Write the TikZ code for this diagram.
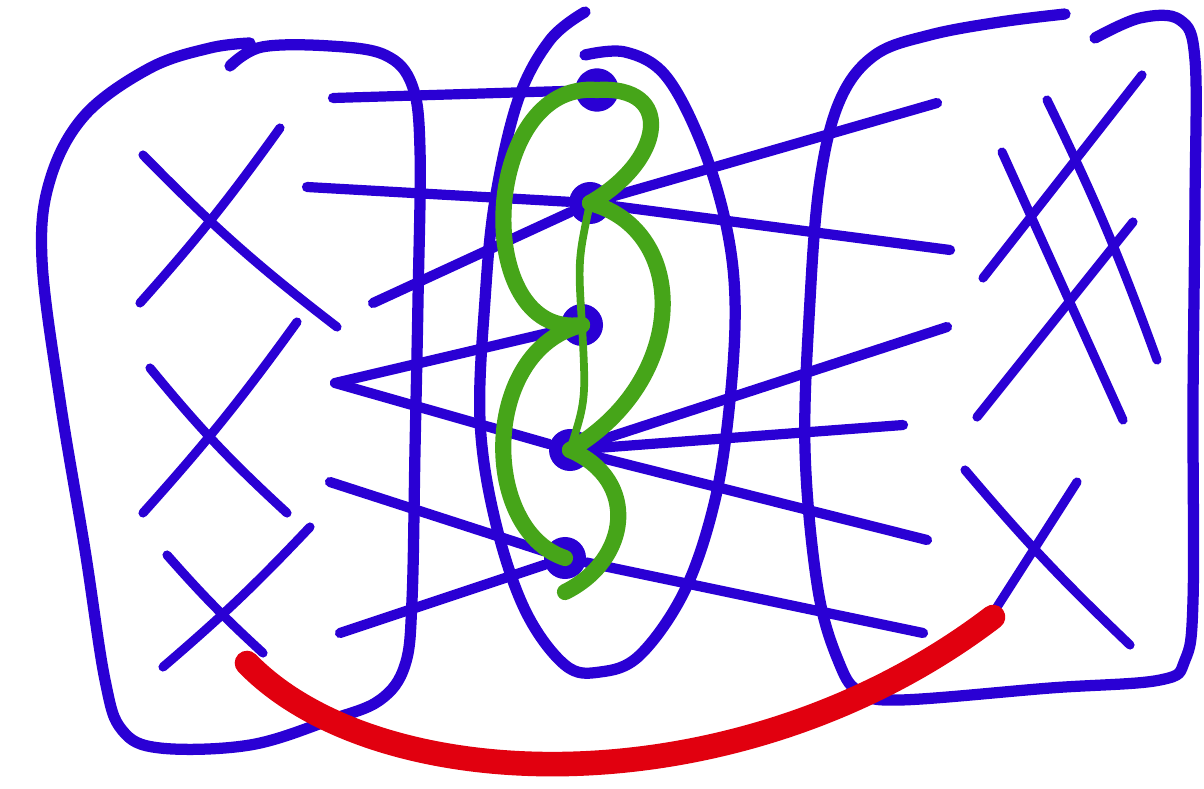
\documentclass[tikz,border=0pt]{standalone}
\usetikzlibrary{positioning}
\definecolor{pen}{RGB}{42,0,212}
\definecolor{leaf}{RGB}{70,165,25}
\definecolor{rim}{RGB}{225,0,15}

\begin{document}
\begin{tikzpicture}[
  x=0.01cm, y=-0.01cm,
  line cap=round, line join=round,
  outline/.style={pen, line width=3.2pt},
  xmark/.style={pen, line width=2.6pt},
  link/.style={pen, line width=2.9pt},
  dot/.style={circle, fill=pen, inner sep=0pt, minimum size=0.42cm},
  ring/.style={circle, draw=pen, fill=white, line width=5pt, inner sep=0pt, minimum size=0.26cm},
  vine/.style={leaf, line width=4.6pt},
  thinvine/.style={leaf, line width=2.2pt},
  redarc/.style={rim, line width=7pt},
]
\useasboundingbox (0,0) rectangle (1204,788);

% Three blobs
\draw[outline] plot[smooth, tension=0.6] coordinates {
  (230,66) (262,47) (330,46) (385,55) (412,85) (420,150) (418,300) (415,450)
  (412,600) (405,665) (380,700) (330,720) (250,745) (160,748) (122,730)
  (105,680) (85,550) (60,400) (42,260) (50,180) (85,115) (150,68) (210,48) (250,43)};
\draw[outline] plot[smooth, tension=0.6] coordinates {
  (585,12) (550,40) (518,100) (495,200) (485,300) (480,420) (495,520) (525,610)
  (565,665) (600,672) (640,655) (685,590) (715,500) (730,400) (735,300)
  (725,220) (700,140) (665,75) (625,52) (585,55)};
\draw[outline] plot[smooth, tension=0.6] coordinates {
  (1095,38) (1140,18) (1180,20) (1195,60) (1195,200) (1193,400) (1193,600)
  (1185,660) (1160,680) (1050,688) (900,700) (860,692) (840,665) (818,590)
  (805,450) (810,300) (820,180) (840,100) (875,55) (930,35) (1000,22) (1065,14)};

% Crosses, left
\draw[xmark] (143,155) to[bend right=4] (337,327);
\draw[xmark] (280,128) to[bend left=3] (140,303);
\draw[xmark] (150,368) to[bend right=4] (287,513);
\draw[xmark] (297,322) to[bend left=3] (143,513);
\draw[xmark] (167,555) to[bend right=3] (263,653);
\draw[xmark] (310,527) to[bend left=3] (163,667);

% Crosses, right
\draw[xmark] (1142,75) -- (983,278);
\draw[xmark] (1047,100) to[bend left=3] (1157,360);
\draw[xmark] (1002,152) -- (1123,420);
\draw[xmark] (1133,222) -- (977,417);
\draw[xmark] (965,470) to[bend right=3] (1130,645);
\draw[xmark] (1077,482) -- (997,607);

% Middle points
\node[ring] (D1) at (597,90) {};
\node[dot]  (D2) at (590,203) {};
\node[dot]  (D3) at (582,325) {};
\node[dot]  (D4) at (570,450) {};
\node[dot]  (D5) at (565,558) {};

% Free ends of the links
\coordinate (l1) at (333,98);
\coordinate (l2) at (307,187);
\coordinate (l3) at (373,303);
\coordinate (l4) at (335,383);
\coordinate (l5) at (330,482);
\coordinate (l6) at (340,633);
\coordinate (r1) at (937,103);
\coordinate (r2) at (950,250);
\coordinate (r3) at (947,327);
\coordinate (r4) at (903,425);
\coordinate (r5) at (927,540);
\coordinate (r6) at (923,633);

\draw[link] (l1) -- (D1);
\draw[link] (l2) -- (D2);
\draw[link] (l3) -- (D2);
\draw[link] (l4) -- (D3);
\draw[link] (l4) -- (D4);
\draw[link] (l5) -- (D5);
\draw[link] (l6) -- (D5);
\draw[link] (D2) -- (r1);
\draw[link] (D2) -- (r2);
\draw[link] (D4) -- (r3);
\draw[link] (D4) -- (r4);
\draw[link] (D4) -- (r5);
\draw[link] (D5) -- (r6);

% Green chain
\coordinate (g6) at (565,592);
\draw[vine] (D1.center) .. controls (480,80) and (470,340) .. (D3.center);
\draw[vine] (D1.center) .. controls (675,85) and (665,160) .. (D2.center);
\draw[thinvine] (D2.center) .. controls (578,260) .. (D3.center) .. controls (586,400) .. (D4.center);
\draw[vine] (D2.center) .. controls (690,230) and (690,380) .. (D4.center);
\draw[vine] (D3.center) .. controls (480,350) and (480,530) .. (D5.center);
\draw[vine] (D4.center) .. controls (640,480) and (630,560) .. (g6);

% Red arc
\coordinate (rA) at (247,663);
\coordinate (rB) at (993,617);
\draw[redarc] (rA) .. controls (380,800) and (740,810) .. (rB);
\end{tikzpicture}
\end{document}
